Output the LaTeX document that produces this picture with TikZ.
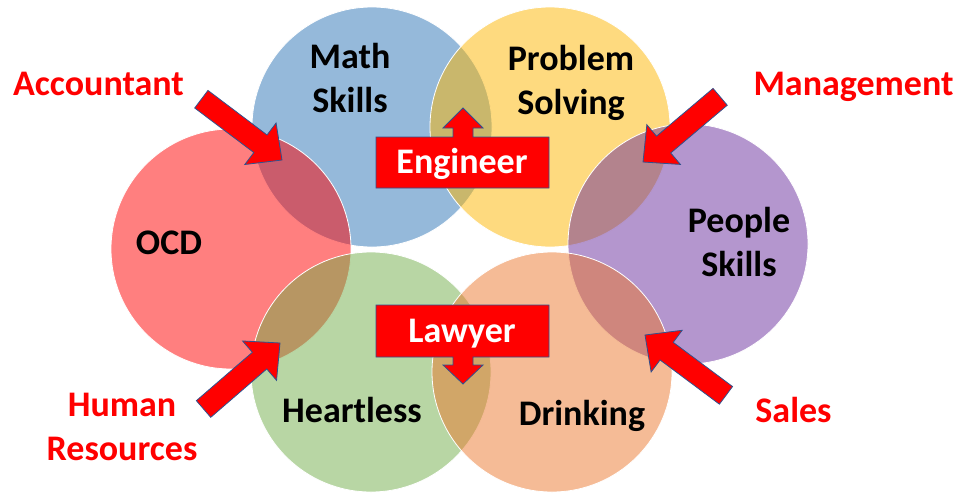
\documentclass[tikz,border=0pt]{standalone}
\usepackage{fontspec}
\setmainfont{Carlito}
\definecolor{cRed}{RGB}{255,0,0}
\definecolor{cBlue}{RGB}{43,115,181}
\definecolor{cYellow}{RGB}{253,181,0}
\definecolor{cPurple}{RGB}{105,45,157}
\definecolor{cGreen}{RGB}{113,173,73}
\definecolor{cOrange}{RGB}{235,119,45}
\definecolor{cEdge}{RGB}{47,82,143}
\definecolor{cLabel}{RGB}{255,0,0}
\begin{document}
\begin{tikzpicture}[x=1pt,y=-1pt,
  venn/.style={circle, minimum size=240pt, inner sep=0pt, draw=white, line width=0.8pt, fill opacity=0.5, draw opacity=1},
  word/.style={font=\bfseries\fontsize{36}{44}\selectfont, inner sep=0pt, align=center, anchor=base},
  redword/.style={word, text=cLabel},
  whiteword/.style={word, text=white},
  blockarrow/.style={fill=cRed, draw=cEdge, line width=0.8pt, line join=miter},
]
\useasboundingbox (0,0) rectangle (965,495);

% circles
\node[venn, fill=cBlue]   (math)    at (372,127) {};
\node[venn, fill=cRed]    (ocd)     at (231,249) {};
\node[venn, fill=cYellow] (problem) at (550,127) {};
\node[venn, fill=cPurple] (people)  at (688,244) {};
\node[venn, fill=cGreen]  (heart)   at (371,372) {};
\node[venn, fill=cOrange] (drink)   at (552,372) {};

% circle texts (base = baseline of last line)
\node[word] (tmath)    at (350,112) {Math\\Skills};
\node[word] (tproblem) at (571,114) {Problem\\Solving};
\node[word] (tocd)     at (169,254) {OCD};
\node[word] (tpeople)  at (739,276) {People\\Skills};
\node[word] (theart)   at (352,422) {Heartless};
\node[word] (tdrink)   at (582,425) {Drinking};

% engineer callout (up arrow)
\draw[blockarrow] (376,137) -- (453,137) -- (453,128) -- (443,128) -- (463,108)
  -- (483,128) -- (473,128) -- (473,137) -- (549,137) -- (549,188) -- (376,188) -- cycle;
\node[whiteword] (eng) at (462,173) {Engineer};

% lawyer callout (down arrow)
\draw[blockarrow] (376,305) -- (549,305) -- (549,357) -- (473,357) -- (473,365)
  -- (483,365) -- (463,384) -- (443,365) -- (453,365) -- (453,357) -- (376,357) -- cycle;
\node[whiteword] (law) at (462,342) {Lawyer};

% block arrows
\foreach \tip/\ang in {{(282,160)}/-37, {(643,162)}/220.2, {(280,343)}/40.8, {(645,335)}/143.3}{
  \draw[blockarrow, shift={\tip}, rotate=\ang]
    (0,0) -- (-27,26) -- (-27,11) -- (-101,11) -- (-101,-11) -- (-27,-11) -- (-27,-26) -- cycle;
}

% red labels
\node[redword] (acc)   at (98.5,95)  {Accountant};
\node[redword] (mgmt)  at (853.5,95) {Management};
\node[redword] (hr)    at (122,460)  {Human\\Resources};
\node[redword] (sales) at (793.5,422) {Sales};
\end{tikzpicture}
\end{document}
